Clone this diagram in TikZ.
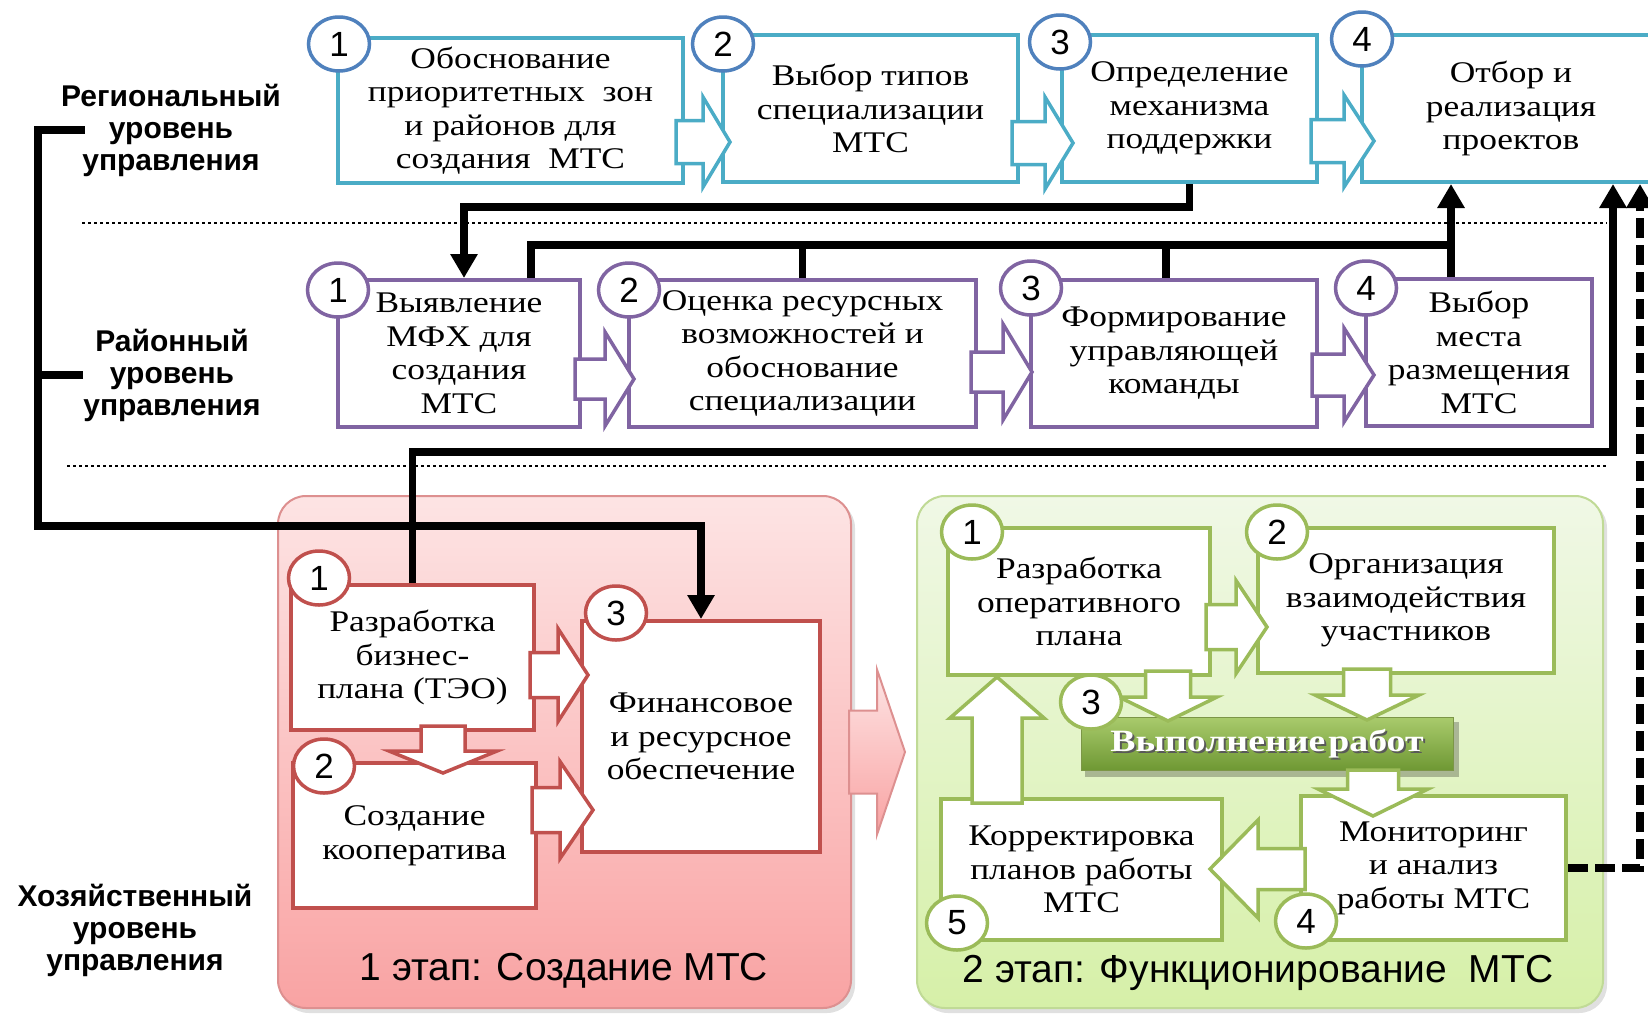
\documentclass[tikz,border=0pt]{standalone}
\usepackage{fontspec}
\setmainfont[FakeStretch=1.18]{Liberation Serif}
\setsansfont{Liberation Sans}
\newfontfamily\barfont[FakeStretch=1.22]{Liberation Serif}
\usetikzlibrary{arrows.meta,shapes.geometric}

\definecolor{regline}{HTML}{4BACC6}
\definecolor{regnum}{HTML}{4F81BD}
\definecolor{distline}{HTML}{8064A2}
\definecolor{farmred}{HTML}{C0504D}
\definecolor{farmgreen}{HTML}{9BBB59}
\definecolor{pinktop}{HTML}{FDE4E4}
\definecolor{pinkbot}{HTML}{F9A3A3}
\definecolor{pinkedge}{HTML}{DD9090}
\definecolor{greentop}{HTML}{F0F8E6}
\definecolor{greenbot}{HTML}{D6F0A8}
\definecolor{greenedge}{HTML}{C0DA96}
\definecolor{bartop}{HTML}{A9CB6C}
\definecolor{barbot}{HTML}{6F9834}

% block arrows: style, tail, head base, tip, axis, shaft half, head half
\newcommand{\arrowH}[7]{\draw[#1] (#2,#5-#6) -- (#3,#5-#6) -- (#3,#5-#7) -- (#4,#5)
  -- (#3,#5+#7) -- (#3,#5+#6) -- (#2,#5+#6) -- cycle;}
\newcommand{\arrowV}[7]{\draw[#1] (#5-#6,#2) -- (#5-#6,#3) -- (#5-#7,#3) -- (#5,#4)
  -- (#5+#7,#3) -- (#5+#6,#3) -- (#5+#6,#2) -- cycle;}

\tikzset{
  box/.style={draw, fill=white, line width=4pt, inner sep=0pt, align=center,
    font=\fontsize{30}{33.5}\selectfont},
  num/.style={ellipse, draw, fill=white, line width=3.5pt, minimum width=61pt,
    minimum height=54pt, inner sep=0pt, font=\sffamily\fontsize{35}{35}\selectfont},
  blockarr/.style={fill=white, line width=3.5pt, line join=miter},
  regarr/.style={blockarr, draw=regline},
  distarr/.style={blockarr, draw=distline},
  redarr/.style={blockarr, draw=farmred},
  grnarr/.style={blockarr, draw=farmgreen},
  conn/.style={line width=7.5pt, line join=miter},
  headed/.style={-{Triangle[width=26pt,length=24pt]}},
  lvl/.style={inner sep=0pt, align=center,
    font=\sffamily\bfseries\fontsize{30}{32}\selectfont},
  stagetitle/.style={inner sep=0pt, font=\sffamily\fontsize{39}{40}\selectfont},
  dotline/.style={line width=2.5pt, dash pattern=on 2.5pt off 3.5pt}
}

\begin{document}
\begin{tikzpicture}[x=1pt, y=-1pt]
\useasboundingbox (0,0) rectangle (1648,1021);
\fill[white] (0,0) rectangle (1648,1021);

% Level separators
\draw[dotline] (82,223) -- (1607,223);
\draw[dotline] (67,466) -- (1607,466);

% Stage panels
\fill[black, opacity=0.12, rounded corners=28pt] (281,500) rectangle (855,1013);
\fill[black, opacity=0.12, rounded corners=28pt] (920,500) rectangle (1607,1013);
\draw[draw=pinkedge, line width=2pt, rounded corners=28pt,
  top color=pinktop, bottom color=pinkbot] (278,496) rectangle (851,1008);
\draw[draw=greenedge, line width=2pt, rounded corners=28pt,
  top color=greentop, bottom color=greenbot] (917,496) rectangle (1603,1008);

% Stage 1 -> stage 2
\arrowH{draw=pinkedge, line width=2pt, line join=miter, top color=pinktop,
  bottom color=pinkbot}{849}{877}{905}{752}{41.5}{82.5}

% Regional level
\node (r1) [box, draw=regline, minimum width=345pt, minimum height=145pt] at (510.5,110.5)
  {Обоснование\\приоритетных\ \ зон\\и районов для\\создания\ \ МТС};
\node (r2) [box, draw=regline, minimum width=295pt, minimum height=147pt] at (870.5,108.5)
  {Выбор типов\\специализации\\МТС};
\node (r3) [box, draw=regline, minimum width=255pt, minimum height=147pt] at (1189.5,108.5)
  {Определение\\механизма\\поддержки};
\node (r4) [box, draw=regline, minimum width=298pt, minimum height=147pt] at (1511,108.5)
  {Отбор и\\реализация\\проектов};

% District level
\node (m1) [box, draw=distline, minimum width=242pt, minimum height=147pt] at (459,353.5)
  {Выявление\\МФХ для\\создания\\МТС};
\node (m2) [box, draw=distline, minimum width=347pt, minimum height=147pt] at (802.5,353.5)
  {Оценка ресурсных\\возможностей и\\обоснование\\специализации};
\node (m3) [box, draw=distline, minimum width=286pt, minimum height=147pt] at (1174,353.5)
  {Формирование\\управляющей\\команды};
\node (m4) [box, draw=distline, minimum width=226pt, minimum height=147pt] at (1479,352.5)
  {Выбор\\места\\размещения\\МТС};

% Stage 1
\node (f1) [box, draw=farmred, minimum width=243pt, minimum height=145pt] at (412.5,657.5)
  {Разработка\\бизнес-\\плана (ТЭО)};
\node (f2) [box, draw=farmred, minimum width=243pt, minimum height=145pt] at (414.5,835.5)
  {Создание\\кооператива};
\node (f3) [box, draw=farmred, minimum width=238pt, minimum height=231pt] at (701,736.5)
  {Финансовое\\и ресурсное\\обеспечение};

% Stage 2
\node (g1) [box, draw=farmgreen, minimum width=262pt, minimum height=147pt] at (1079,601.5)
  {Разработка\\оперативного\\плана};
\node (g2) [box, draw=farmgreen, minimum width=296pt, minimum height=145pt] at (1406,600.5)
  {Организация\\взаимодействия\\участников};
\node (g4) [box, draw=farmgreen, minimum width=265pt, minimum height=144pt] at (1433.5,868)
  {Мониторинг\\и анализ\\работы МТС};
\node (g5) [box, draw=farmgreen, minimum width=281pt, minimum height=141pt] at (1081.5,869.5)
  {Корректировка\\планов работы\\МТС};
\fill[black, opacity=0.25] (1085,722) rectangle (1459,777);
\node (bar) [draw=farmgreen!80!black, line width=1pt, top color=bartop, bottom color=barbot,
  minimum width=372pt, minimum height=53pt] at (1267,743.5) {};
\node (barshade) [text=black!65] at (1269,746)
  {\barfont\bfseries\fontsize{31}{31}\selectfont Выполнение\hspace{3pt}работ};
\node (bartext) [text=white] at (1267,743.5)
  {\barfont\bfseries\fontsize{31}{31}\selectfont Выполнение\hspace{3pt}работ};

% Block arrows
\arrowH{regarr}{676}{703}{730}{142}{21.5}{45}
\arrowH{regarr}{1012}{1045}{1073}{143}{21.5}{46}
\arrowH{regarr}{1311}{1344}{1374}{141}{21.5}{46}
\arrowH{distarr}{575}{605}{634}{379}{20}{47}
\arrowH{distarr}{971}{1003}{1032}{372}{20}{48}
\arrowH{distarr}{1312}{1344}{1374}{375}{21}{47}
\arrowH{redarr}{530}{558}{588}{675}{22.5}{46.5}
\arrowH{redarr}{532}{560}{593}{810}{22.5}{48.5}
\arrowV{redarr}{726}{751}{773}{443}{22}{54}
\arrowH{grnarr}{1206}{1236}{1267}{627}{22.5}{46.5}
\arrowV{grnarr}{671}{697}{721}{1168}{22.5}{49}
\arrowV{grnarr}{669}{695}{720}{1367}{23.5}{52}
\arrowV{grnarr}{770}{789}{816}{1373}{25.5}{55}
\arrowH{grnarr}{1305}{1258}{1210}{869}{20.5}{49}
\arrowV{grnarr}{803}{718}{677}{997}{25}{47}

% Step numbers
\foreach \n/\x/\y in {1/339/44, 2/723/44, 3/1060/42, 4/1362/39}
  \node (rn\n) [num, draw=regnum] at (\x,\y) {\n};
\foreach \n/\x/\y in {1/338/290, 2/629/290, 3/1031/288, 4/1366/288}
  \node (mn\n) [num, draw=distline] at (\x,\y) {\n};
\foreach \n/\x/\y in {1/319/578, 2/324/766, 3/616/613}
  \node (fn\n) [num, draw=farmred] at (\x,\y) {\n};
\foreach \n/\x/\y in {1/972/532, 2/1277/532, 3/1091/702, 4/1306/921, 5/957/923}
  \node (gn\n) [num, draw=farmgreen] at (\x,\y) {\n};

% Level labels
\node (lreg) [lvl] at (171,130) {Региональный\\уровень\\управления};
\node (ldist) [lvl] at (172,375) {Районный\\уровень\\управления};
\node (lfarm) [lvl] at (135,930) {Хозяйственный\\уровень\\управления};
\node (s1title) [stagetitle] at (564,971) {1 этап: Создание МТС};
\node (s2title) [stagetitle] at (1258,973) {2 этап: Функционирование\ \ МТС};

% Connectors
\coordinate (hub) at (1451,245);
\coordinate (turn) at (1613,452);
\draw[conn, headed] (r3.south) -- ++(0,23) -| ([xshift=5pt]m1.north);
\draw[conn] ([xshift=72pt]m1.north) |- (hub);
\draw[conn] (m2.north) -- (m2.north |- hub);
\draw[conn] ([xshift=-8pt]m3.north) -- ([xshift=-8pt]m3.north |- hub);
\draw[conn, headed] ([xshift=-28pt]m4.north) -- ([xshift=-28pt]m4.north |- r4.south);
\draw[conn, headed] (f1.north) |- (turn) -- (turn |- r4.south);
\draw[conn, headed] ([xshift=24pt]lreg.west) -| (38,526) -| (f3.north);
\draw[conn] (ldist.west) -- ++(-44,0);
\draw[conn, headed, dash pattern=on 20pt off 7pt] (g4.east) -| ([xshift=129pt]r4.south);
\end{tikzpicture}
\end{document}
